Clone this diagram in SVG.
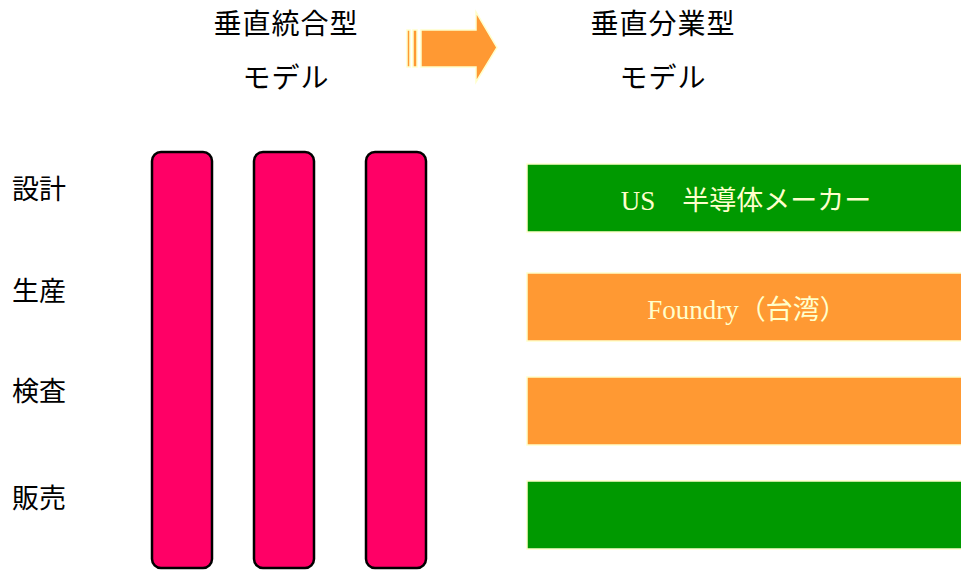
<svg xmlns="http://www.w3.org/2000/svg" width="961" height="570" viewBox="0 0 961 570">
<style>
.t{font-family:"Noto Sans CJK JP","Liberation Sans",sans-serif;fill:#000}
.h{font-size:28px;letter-spacing:1px}
.l{font-size:27px}
.col{fill:#FF0066;stroke:#000;stroke-width:2.5}
.bar{stroke:#FFFFCC;stroke-width:1.5}
.bt{font-family:"Liberation Serif","Noto Sans CJK JP",serif;font-size:27px;fill:#FFFFCC;text-anchor:middle}
</style>
<rect width="961" height="570" fill="#fff"/>
<g id="title-left">
<text class="t h" x="286" y="34" text-anchor="middle">垂直統合型</text>
<text class="t h" x="286" y="88" text-anchor="middle">モデル</text>
</g>
<g id="title-right">
<text class="t h" x="663" y="34" text-anchor="middle">垂直分業型</text>
<text class="t h" x="663" y="88" text-anchor="middle">モデル</text>
</g>
<g id="arrow" fill="#FF9933" stroke="#FFFFCC" stroke-width="1.5">
<rect x="407" y="30" width="3" height="37"/>
<rect x="413" y="30" width="4" height="37"/>
<path d="M421 30 H476 V12 L497 47.5 L476 82 V67 H421 Z"/>
</g>
<g id="stage-labels">
<text class="t l" x="12" y="199">設計</text>
<text class="t l" x="12" y="301">生産</text>
<text class="t l" x="12" y="401">検査</text>
<text class="t l" x="12" y="508">販売</text>
</g>
<g id="col1"><rect class="col" x="152" y="152" width="60" height="416" rx="9"/></g>
<g id="col2"><rect class="col" x="254" y="152" width="60" height="416" rx="9"/></g>
<g id="col3"><rect class="col" x="366" y="152" width="60" height="416" rx="9"/></g>
<g id="us">
<rect class="bar" x="527" y="164" width="436" height="68" fill="#009900"/>
<text class="bt" x="746" y="210">US　半導体メーカー</text>
</g>
<g id="foundry">
<rect class="bar" x="527" y="273" width="436" height="68" fill="#FF9933"/>
<text class="bt" x="747" y="319">Foundry（台湾）</text>
</g>
<g id="test">
<rect class="bar" x="527" y="377" width="436" height="68" fill="#FF9933"/>
</g>
<g id="sales">
<rect class="bar" x="527" y="481" width="436" height="68" fill="#009900"/>
</g>
<g id="connectors"/>
</svg>
